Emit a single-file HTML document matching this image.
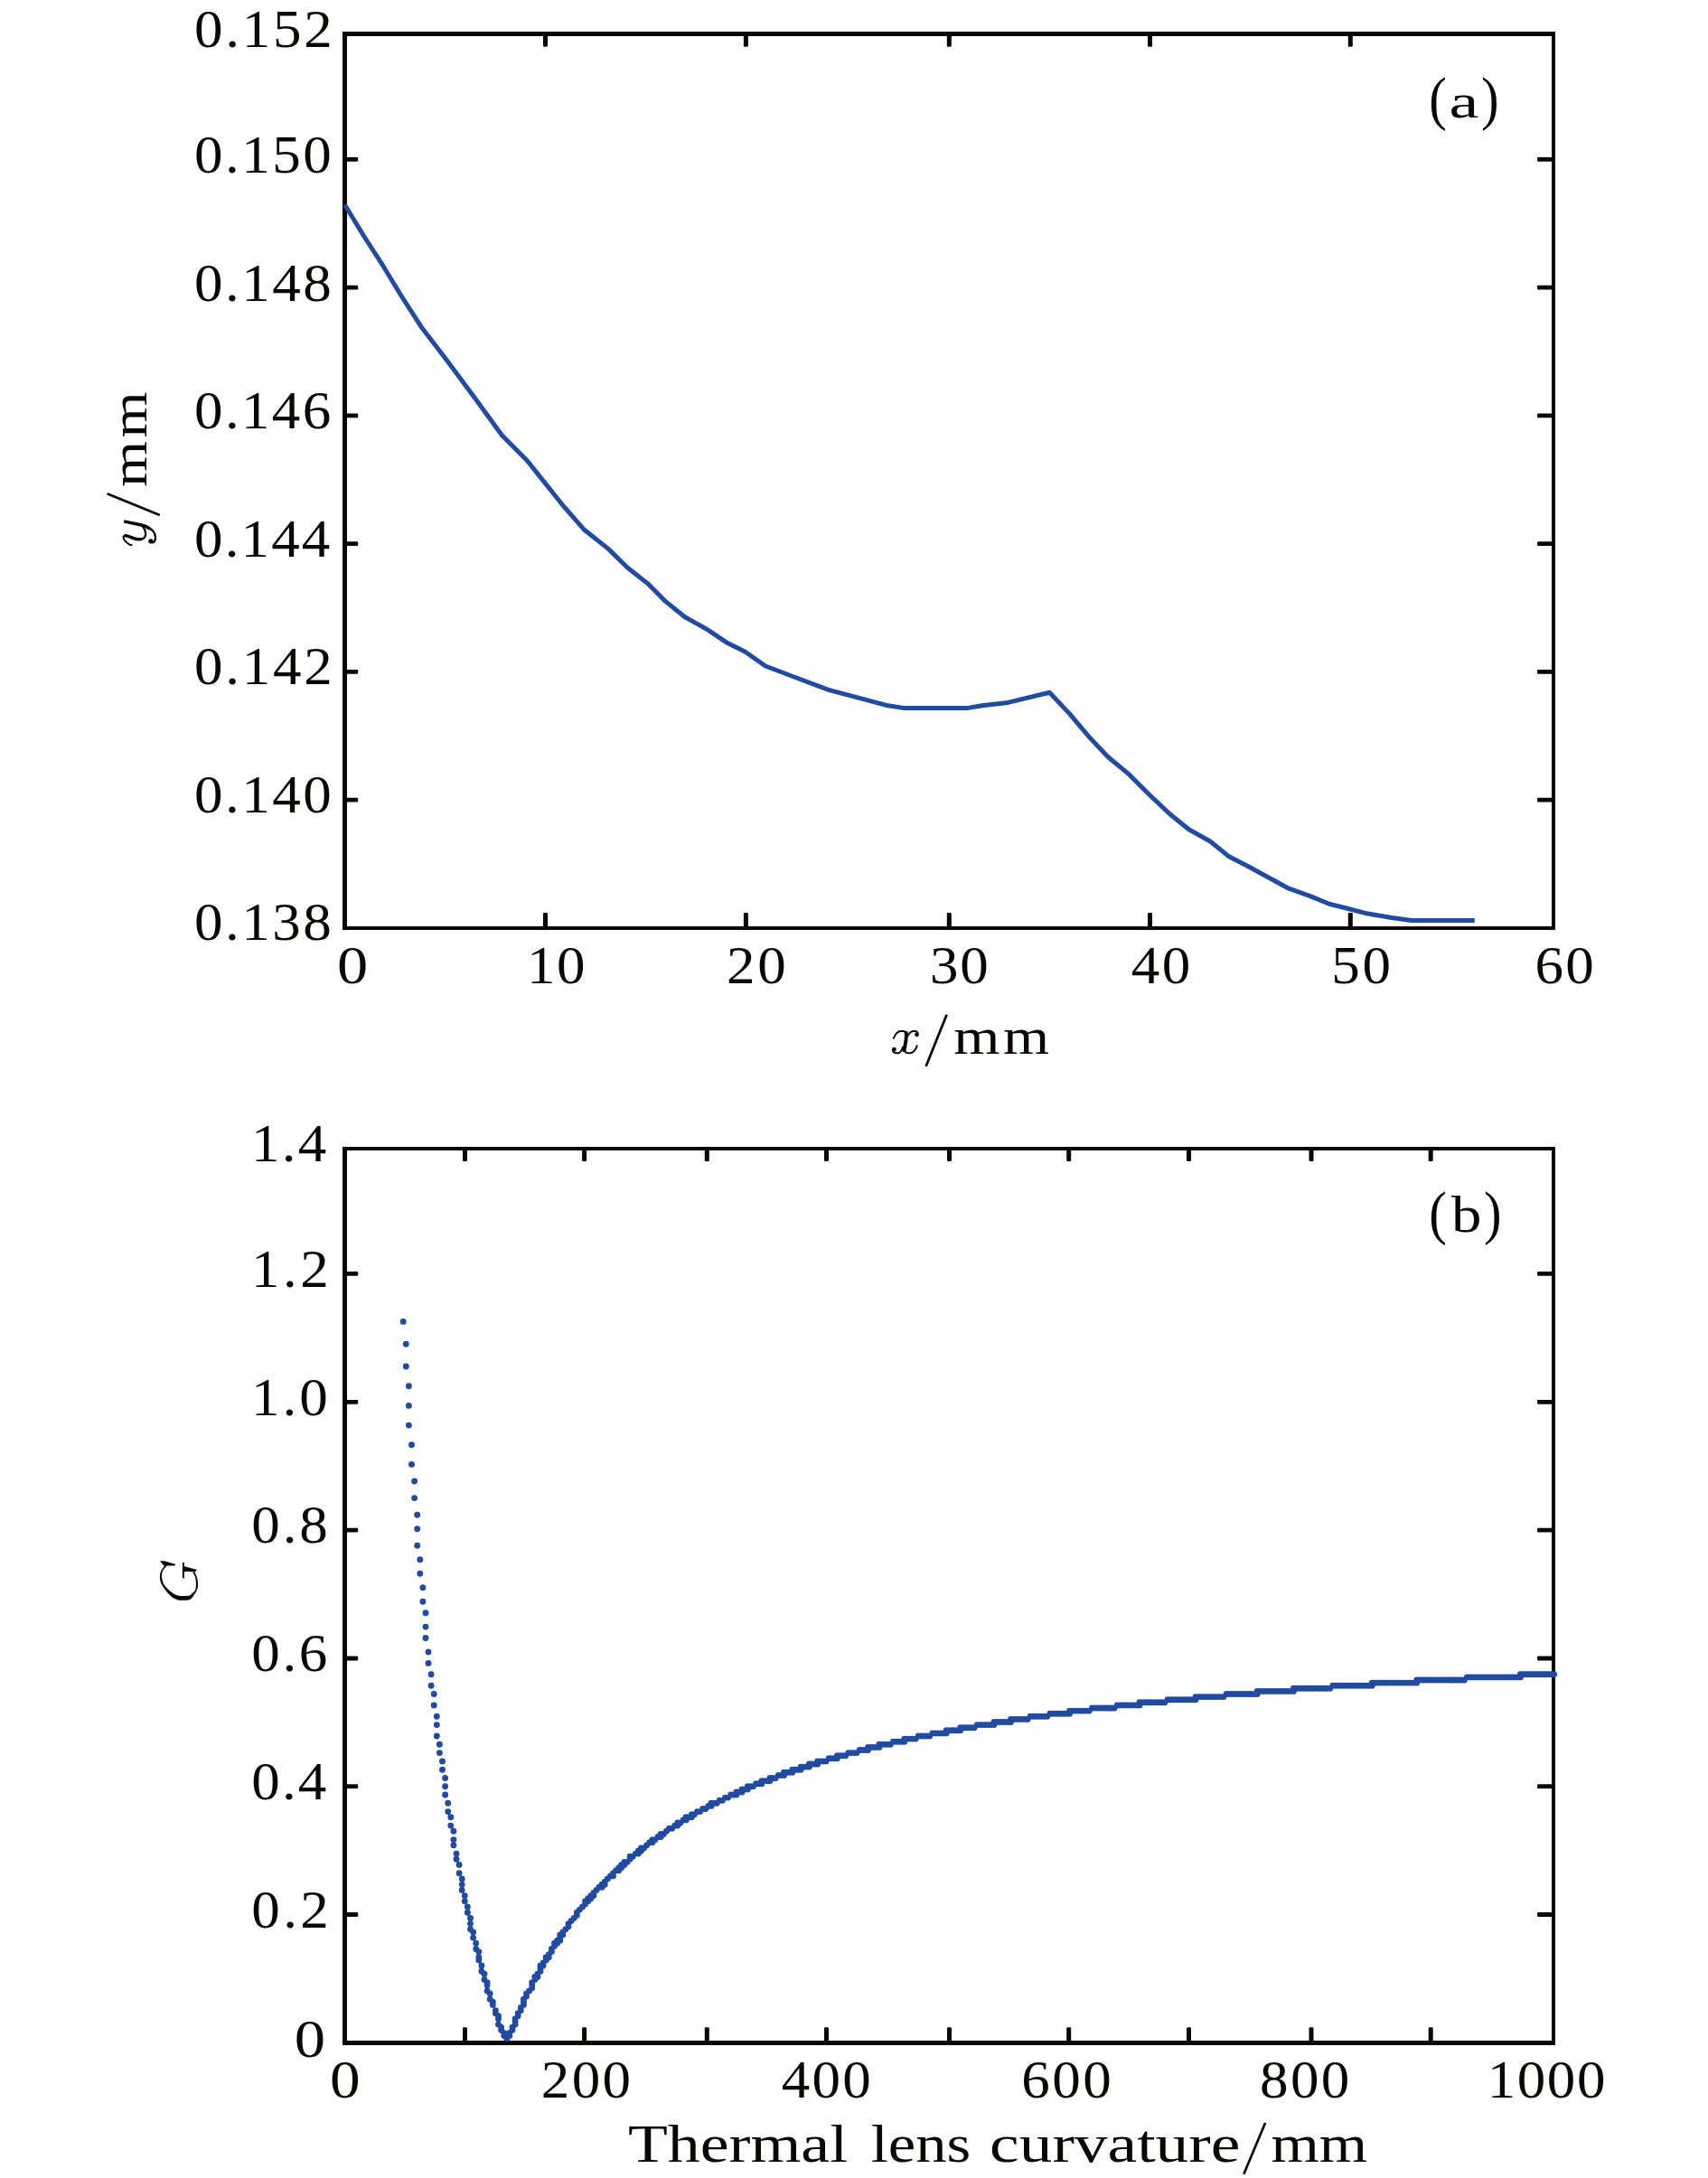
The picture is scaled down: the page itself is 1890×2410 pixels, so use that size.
<!DOCTYPE html>
<html><head><meta charset="utf-8"><title>fig</title>
<style>
html,body{margin:0;padding:0;background:#fff}
svg{display:block}
text{font-family:"Liberation Serif",serif;fill:#0a0606;font-kerning:none;font-variant-ligatures:none}
.i{font-style:italic}
</style></head><body>
<svg width="1890" height="2410" viewBox="0 0 1890 2410">
<rect width="1890" height="2410" fill="#fff"/>
<rect x="379.00" y="35.00" width="5.00" height="994.00" fill="#0a0606"/>
<rect x="379.00" y="35.00" width="1342.00" height="5.00" fill="#0a0606"/>
<rect x="1717.00" y="35.00" width="4.00" height="994.00" fill="#0a0606"/>
<rect x="379.00" y="1025.00" width="1342.00" height="4.00" fill="#0a0606"/>
<rect x="601.00" y="1010.10" width="5.00" height="17.90" rx="1.3" fill="#0a0606"/>
<rect x="601.00" y="36.00" width="5.00" height="15.80" rx="1.3" fill="#0a0606"/>
<rect x="822.90" y="1010.10" width="5.00" height="17.90" rx="1.3" fill="#0a0606"/>
<rect x="822.90" y="36.00" width="5.00" height="15.80" rx="1.3" fill="#0a0606"/>
<rect x="1047.80" y="1010.10" width="5.00" height="17.90" rx="1.3" fill="#0a0606"/>
<rect x="1047.80" y="36.00" width="5.00" height="15.80" rx="1.3" fill="#0a0606"/>
<rect x="1270.00" y="1010.10" width="5.00" height="17.90" rx="1.3" fill="#0a0606"/>
<rect x="1270.00" y="36.00" width="5.00" height="15.80" rx="1.3" fill="#0a0606"/>
<rect x="1491.80" y="1010.10" width="5.00" height="17.90" rx="1.3" fill="#0a0606"/>
<rect x="1491.80" y="36.00" width="5.00" height="15.80" rx="1.3" fill="#0a0606"/>
<rect x="380.00" y="173.90" width="16.20" height="4.80" rx="1.3" fill="#0a0606"/>
<rect x="1701.00" y="173.90" width="19.00" height="4.80" rx="1.3" fill="#0a0606"/>
<rect x="380.00" y="315.70" width="16.20" height="4.80" rx="1.3" fill="#0a0606"/>
<rect x="1701.00" y="315.70" width="19.00" height="4.80" rx="1.3" fill="#0a0606"/>
<rect x="380.00" y="457.50" width="16.20" height="4.80" rx="1.3" fill="#0a0606"/>
<rect x="1701.00" y="457.50" width="19.00" height="4.80" rx="1.3" fill="#0a0606"/>
<rect x="380.00" y="599.20" width="16.20" height="4.80" rx="1.3" fill="#0a0606"/>
<rect x="1701.00" y="599.20" width="19.00" height="4.80" rx="1.3" fill="#0a0606"/>
<rect x="380.00" y="741.00" width="16.20" height="4.80" rx="1.3" fill="#0a0606"/>
<rect x="1701.00" y="741.00" width="19.00" height="4.80" rx="1.3" fill="#0a0606"/>
<rect x="380.00" y="882.80" width="16.20" height="4.80" rx="1.3" fill="#0a0606"/>
<rect x="1701.00" y="882.80" width="19.00" height="4.80" rx="1.3" fill="#0a0606"/>
<rect x="379.00" y="1269.00" width="5.00" height="994.00" fill="#0a0606"/>
<rect x="379.00" y="1269.00" width="1342.00" height="4.00" fill="#0a0606"/>
<rect x="1717.00" y="1269.00" width="4.00" height="994.00" fill="#0a0606"/>
<rect x="379.00" y="2258.00" width="1342.00" height="5.00" fill="#0a0606"/>
<rect x="512.00" y="2243.30" width="5.00" height="18.70" rx="1.3" fill="#0a0606"/>
<rect x="512.00" y="1270.00" width="5.00" height="15.00" rx="1.3" fill="#0a0606"/>
<rect x="644.10" y="2243.30" width="5.00" height="18.70" rx="1.3" fill="#0a0606"/>
<rect x="644.10" y="1270.00" width="5.00" height="15.00" rx="1.3" fill="#0a0606"/>
<rect x="779.80" y="2243.30" width="5.00" height="18.70" rx="1.3" fill="#0a0606"/>
<rect x="779.80" y="1270.00" width="5.00" height="15.00" rx="1.3" fill="#0a0606"/>
<rect x="912.00" y="2243.30" width="5.00" height="18.70" rx="1.3" fill="#0a0606"/>
<rect x="912.00" y="1270.00" width="5.00" height="15.00" rx="1.3" fill="#0a0606"/>
<rect x="1048.00" y="2243.30" width="5.00" height="18.70" rx="1.3" fill="#0a0606"/>
<rect x="1048.00" y="1270.00" width="5.00" height="15.00" rx="1.3" fill="#0a0606"/>
<rect x="1180.20" y="2243.30" width="5.00" height="18.70" rx="1.3" fill="#0a0606"/>
<rect x="1180.20" y="1270.00" width="5.00" height="15.00" rx="1.3" fill="#0a0606"/>
<rect x="1313.00" y="2243.30" width="5.00" height="18.70" rx="1.3" fill="#0a0606"/>
<rect x="1313.00" y="1270.00" width="5.00" height="15.00" rx="1.3" fill="#0a0606"/>
<rect x="1448.50" y="2243.30" width="5.00" height="18.70" rx="1.3" fill="#0a0606"/>
<rect x="1448.50" y="1270.00" width="5.00" height="15.00" rx="1.3" fill="#0a0606"/>
<rect x="1580.70" y="2243.30" width="5.00" height="18.70" rx="1.3" fill="#0a0606"/>
<rect x="1580.70" y="1270.00" width="5.00" height="15.00" rx="1.3" fill="#0a0606"/>
<rect x="380.00" y="1407.00" width="16.20" height="4.80" rx="1.3" fill="#0a0606"/>
<rect x="1701.00" y="1407.00" width="19.00" height="4.80" rx="1.3" fill="#0a0606"/>
<rect x="380.00" y="1549.00" width="16.20" height="4.80" rx="1.3" fill="#0a0606"/>
<rect x="1701.00" y="1549.00" width="19.00" height="4.80" rx="1.3" fill="#0a0606"/>
<rect x="380.00" y="1690.80" width="16.20" height="4.80" rx="1.3" fill="#0a0606"/>
<rect x="1701.00" y="1690.80" width="19.00" height="4.80" rx="1.3" fill="#0a0606"/>
<rect x="380.00" y="1832.60" width="16.20" height="4.80" rx="1.3" fill="#0a0606"/>
<rect x="1701.00" y="1832.60" width="19.00" height="4.80" rx="1.3" fill="#0a0606"/>
<rect x="380.00" y="1974.30" width="16.20" height="4.80" rx="1.3" fill="#0a0606"/>
<rect x="1701.00" y="1974.30" width="19.00" height="4.80" rx="1.3" fill="#0a0606"/>
<rect x="380.00" y="2116.10" width="16.20" height="4.80" rx="1.3" fill="#0a0606"/>
<rect x="1701.00" y="2116.10" width="19.00" height="4.80" rx="1.3" fill="#0a0606"/>
<text transform="translate(215.10,52.00) scale(1.0700,1.0000)" font-size="58.93" letter-spacing="2.527">0.152</text>
<text transform="translate(215.10,191.10) scale(1.0700,1.0000)" font-size="58.93" letter-spacing="2.276">0.150</text>
<text transform="translate(215.10,332.60) scale(1.0700,1.0000)" font-size="58.93" letter-spacing="2.276">0.148</text>
<text transform="translate(215.10,473.70) scale(1.0700,1.0000)" font-size="58.93" letter-spacing="2.153">0.146</text>
<text transform="translate(215.10,615.50) scale(1.0700,1.0000)" font-size="58.93" letter-spacing="1.945">0.144</text>
<text transform="translate(215.10,757.30) scale(1.0700,1.0000)" font-size="58.93" letter-spacing="2.527">0.142</text>
<text transform="translate(215.10,899.30) scale(1.0700,1.0000)" font-size="58.93" letter-spacing="2.276">0.140</text>
<text transform="translate(215.10,1040.10) scale(1.0700,1.0000)" font-size="58.93" letter-spacing="2.276">0.138</text>
<text transform="translate(372.89,1088.00) scale(1.1612,1.0000)" font-size="58.93">0</text>
<text transform="translate(582.96,1088.00) scale(1.0700,1.0000)" font-size="58.93" letter-spacing="1.395">10</text>
<text transform="translate(803.93,1088.00) scale(1.0700,1.0000)" font-size="58.93" letter-spacing="2.544">20</text>
<text transform="translate(1028.98,1088.00) scale(1.0700,1.0000)" font-size="58.93" letter-spacing="1.559">30</text>
<text transform="translate(1251.67,1088.00) scale(1.0700,1.0000)" font-size="58.93" letter-spacing="2.320">40</text>
<text transform="translate(1473.24,1088.00) scale(1.0700,1.0000)" font-size="58.93" letter-spacing="2.537">50</text>
<text transform="translate(1698.59,1088.00) scale(1.0700,1.0000)" font-size="58.93" letter-spacing="2.112">60</text>
<g transform="translate(980.00,1130.00) scale(0.02634)" fill="none" stroke="#0a0606" stroke-linecap="round" stroke-linejoin="round"><path stroke-width="72" d="M335 715Q450 440 610 418L770 418Q850 430 880 520"/><path stroke-width="150" stroke-linecap="butt" d="M845 440C930 640 800 1000 775 1290"/><path stroke-width="72" d="M935 610Q1020 440 1150 418L1270 418Q1340 430 1340 500"/><circle cx="1312" cy="560" r="92" fill="#0a0606" stroke="none"/><circle cx="357" cy="1187" r="92" fill="#0a0606" stroke="none"/><path stroke-width="72" d="M300 1230Q330 1335 450 1337L540 1337Q640 1320 730 1080"/><path stroke-width="72" d="M800 1240Q820 1337 930 1337L1060 1337Q1230 1290 1320 1030"/></g>
<line x1="1024.60" y1="1179.90" x2="1047.60" y2="1122.80" stroke="#0a0606" stroke-width="2.70"/>
<text transform="translate(1055.32,1166.30) scale(1.1600,1.0000)" font-size="56.65" letter-spacing="3.003">mm</text>
<text transform="translate(161.80,539.08) rotate(-90) scale(1.1600,1.0000)" font-size="56.65" letter-spacing="3.003">mm</text>
<line x1="118.60" y1="546.20" x2="176.80" y2="570.00" stroke="#0a0606" stroke-width="2.70"/>
<g transform="translate(125.00,565.00) scale(0.03512)" fill="none" stroke="#0a0606" stroke-linecap="round" stroke-linejoin="round"><path stroke-width="100" stroke-linecap="butt" d="M345 338L900 458Q1060 495 1170 580"/><path stroke-width="66" d="M1080 515C1270 610 1335 720 1338 840C1338 940 1300 1003 1235 1005"/><circle cx="1192" cy="962" r="74" fill="#0a0606" stroke="none"/><path stroke-width="58" d="M585 1085L545 1085Q385 985 338 885Q310 800 395 768"/><path stroke-width="100" d="M400 792Q470 795 610 855Q750 912 880 905"/><path stroke-width="64" d="M860 908Q1025 895 1030 725Q1030 610 950 520"/></g>
<text transform="translate(1581.32,130.99) scale(0.9066,1.0000)" font-size="64.85">(</text>
<text transform="translate(1638.91,130.99) scale(0.9066,1.0000)" font-size="64.85">)</text>
<text transform="translate(1603.40,130.00) scale(1.3757,1.0000)" font-size="53.73">a</text>
<text transform="translate(278.06,1285.00) scale(1.0700,1.0000)" font-size="58.93" letter-spacing="2.109">1.4</text>
<text transform="translate(278.06,1423.60) scale(1.0700,1.0000)" font-size="58.93" letter-spacing="3.275">1.2</text>
<text transform="translate(278.06,1566.00) scale(1.0700,1.0000)" font-size="58.93" letter-spacing="2.771">1.0</text>
<text transform="translate(278.30,1707.40) scale(1.0700,1.0000)" font-size="58.93" letter-spacing="2.659">0.8</text>
<text transform="translate(278.30,1849.20) scale(1.0700,1.0000)" font-size="58.93" letter-spacing="2.414">0.6</text>
<text transform="translate(278.30,1991.00) scale(1.0700,1.0000)" font-size="58.93" letter-spacing="1.997">0.4</text>
<text transform="translate(278.30,2132.70) scale(1.0700,1.0000)" font-size="58.93" letter-spacing="3.162">0.2</text>
<text transform="translate(325.69,2275.50) scale(1.1652,1.0000)" font-size="58.93">0</text>
<text transform="translate(365.04,2321.30) scale(1.1412,1.0000)" font-size="58.93">0</text>
<text transform="translate(598.83,2321.30) scale(1.0700,1.0000)" font-size="58.93" letter-spacing="2.148">200</text>
<text transform="translate(864.77,2321.30) scale(1.0700,1.0000)" font-size="58.93" letter-spacing="2.036">400</text>
<text transform="translate(1130.19,2321.30) scale(1.0700,1.0000)" font-size="58.93" letter-spacing="2.353">600</text>
<text transform="translate(1394.00,2321.30) scale(1.0700,1.0000)" font-size="58.93" letter-spacing="2.209">800</text>
<text transform="translate(1645.66,2321.30) scale(1.0700,1.0000)" font-size="58.93" letter-spacing="1.477">1000</text>
<text transform="translate(695.00,2391.90) scale(1.2150,1.0000)" font-size="59.10">Thermal</text>
<text transform="translate(963.63,2391.90) scale(1.1612,1.0000)" font-size="59.10">lens</text>
<text transform="translate(1095.10,2391.90) scale(1.2425,1.0000)" font-size="59.10">curvature</text>
<line x1="1376.30" y1="2405.80" x2="1400.10" y2="2349.00" stroke="#0a0606" stroke-width="2.70"/>
<text transform="translate(1406.56,2391.90) scale(1.1600,1.0000)" font-size="59.10" letter-spacing="-0.125">mm</text>
<g transform="translate(168.00,1718.00) scale(0.03512)" fill="#0a0606" stroke="none"><path d="M395 425C384 439 349 481 330 510C311 539 292 568 280 600C268 632 262 662 258 700C254 738 250 787 255 830C260 873 276 923 290 960C304 997 318 1015 340 1050C362 1085 377 1116 420 1170C463 1224 543 1325 600 1375C657 1425 715 1447 760 1468C805 1489 813 1495 870 1500C927 1505 1038 1508 1100 1500C1162 1492 1200 1480 1240 1450C1280 1420 1310 1363 1340 1320C1370 1277 1402 1230 1420 1190C1438 1150 1442 1120 1447 1080C1452 1040 1452 992 1450 950C1448 908 1443 868 1435 830C1427 792 1416 758 1400 720C1384 682 1350 620 1340 600L1290 625C1300 641 1335 686 1350 720C1365 754 1373 792 1380 830C1387 868 1391 907 1392 950C1393 993 1392 1052 1388 1090C1384 1128 1385 1152 1370 1180C1355 1208 1325 1235 1300 1260C1275 1285 1248 1313 1220 1330C1192 1347 1183 1356 1130 1362C1077 1368 962 1370 900 1365C838 1360 810 1352 760 1330C710 1308 652 1272 600 1232C548 1192 488 1132 450 1090C412 1048 391 1020 370 980C349 940 334 897 325 850C316 803 313 742 315 700C317 658 324 630 335 600C346 570 356 551 380 520C404 489 463 430 480 412Z"/><path d="M255 262L390 262L735 362L735 412L480 412L395 425Z"/><path d="M965 315L1020 315L1020 800L1008 828L965 780Z"/><path d="M1015 425L1150 470L1415 535L1395 585L1335 612L1100 592L1015 602Z"/></g>
<text transform="translate(1581.32,1363.99) scale(0.9066,1.0000)" font-size="64.85">(</text>
<text transform="translate(1642.11,1363.99) scale(0.9066,1.0000)" font-size="64.85">)</text>
<text transform="translate(1606.00,1362.90) scale(1.1575,1.0000)" font-size="57.79">b</text>
<polyline fill="none" stroke="#204ba0" stroke-width="5" stroke-linejoin="round" points="381.5,226.5 402.8,261.5 423.3,293.2 443.8,327.0 466.3,361.9 493.0,396.7 525.7,440.8 555.5,481.8 583.1,509.4 624.1,560.7 646.6,586.3 673.2,607.4 694.2,628.0 716.6,645.6 736.4,665.4 757.5,682.5 781.2,695.7 803.6,710.7 824.6,721.2 847.0,737.0 883.9,751.0 916.9,763.4 949.8,772.1 982.7,780.8 999.8,783.4 1071.0,783.4 1086.8,780.8 1115.3,777.4 1161.4,766.3 1183.8,790.1 1204.9,815.1 1226.0,837.5 1249.7,857.2 1270.7,878.3 1294.5,900.7 1315.5,917.8 1339.2,931.0 1360.3,948.1 1381.4,958.7 1405.1,971.8 1426.2,983.2 1449.9,991.6 1471.0,1000.3 1492.0,1005.5 1512.4,1010.8 1540.0,1015.5 1562.0,1018.4 1631.7,1018.4"/>
<path fill="none" stroke="#204ba0" stroke-width="6.9" stroke-linecap="round" d="M446.2 1462.4h0M449.3 1487.2h0M449.3 1512.0h0M452.4 1533.7h0M452.4 1555.4h0M452.4 1577.1h0M455.5 1598.8h0M455.5 1620.4h0M458.6 1639.0h0M458.6 1657.6h0M461.7 1676.2h0M461.7 1691.7h0M461.7 1710.3h0M464.8 1725.8h0M464.8 1741.3h0M467.9 1756.8h0M467.9 1772.3h0M471.0 1784.7h0M471.0 1800.1h0M471.0 1812.5h0M474.0 1828.0h0M474.0 1840.4h0M477.1 1852.8h0M477.1 1865.2h0M480.2 1874.5h0M480.2 1886.9h0M483.3 1899.3h0M483.3 1908.6h0M483.3 1921.0h0M486.4 1930.3h0M486.4 1939.6h0M489.5 1948.9h0M489.5 1958.2h0M492.6 1967.5h0M492.6 1976.8h0M492.6 1986.0h0M495.7 1995.3h0M495.7 2004.6h0M498.8 2010.8h0M498.8 2020.1h0M501.9 2026.3h0M501.9 2035.6h0M501.9 2041.8h0M505.0 2051.1h0M505.0 2057.3h0M508.1 2063.5h0M508.1 2072.8h0M511.2 2079.0h0M511.2 2085.2h0M511.2 2091.4h0M514.3 2097.6h0M514.3 2103.8h0M517.4 2110.0h0M517.4 2116.2h0M520.5 2122.4h0M520.5 2128.6h0M520.5 2134.8h0M523.6 2137.9h0M523.6 2144.1h0M526.7 2150.3h0M526.7 2156.5h0M529.8 2159.6h0M529.8 2165.8h0M529.8 2168.9h0M532.9 2175.0h0M532.9 2181.2h0M536.0 2184.3h0M536.0 2190.5h0M539.1 2193.6h0M539.1 2196.7h0M539.1 2202.9h0M542.2 2206.0h0M542.2 2212.2h0M545.3 2215.3h0M545.3 2218.4h0M548.4 2224.6h0M548.4 2227.7h0M551.5 2230.8h0M551.5 2233.9h0M551.5 2240.1h0M554.6 2243.2h0M554.6 2246.3h0M557.7 2249.4h0M557.7 2252.5h0M560.8 2255.6h0M563.9 2252.5h0M563.9 2249.4h0M567.0 2246.3h0M567.0 2243.2h0M570.1 2240.1h0M570.1 2237.0h0M570.1 2233.9h0M573.2 2230.8h0M573.2 2227.7h0M576.3 2224.6h0M576.3 2221.5h0M579.4 2218.4h0M579.4 2215.3h0M579.4 2212.2h0M582.5 2209.1h0M582.5 2206.0h0M585.6 2202.9h0M588.7 2199.8h0M588.7 2196.7h0M588.7 2193.6h0M591.8 2190.5h0M591.8 2187.4h0M594.9 2187.4h0M594.9 2184.3h0M598.0 2181.2h0M598.0 2178.1h0M598.0 2175.0h0M601.1 2175.0h0M601.1 2172.0h0M604.2 2168.9h0M604.2 2165.8h0M607.3 2165.8h0M607.3 2162.7h0M610.4 2159.6h0M610.4 2156.5h0M613.5 2153.4h0M613.5 2150.3h0M616.6 2150.3h0M616.6 2147.2h0M619.7 2147.2h0M619.7 2144.1h0M619.7 2141.0h0M622.8 2141.0h0M622.8 2137.9h0M625.9 2134.8h0M629.0 2131.7h0M629.0 2128.6h0M632.1 2125.5h0M635.2 2122.4h0M638.3 2119.3h0M638.3 2116.2h0M641.4 2113.1h0M644.5 2110.0h0M647.6 2106.9h0M647.6 2103.8h0M650.7 2103.8h0M650.7 2100.7h0M653.8 2100.7h0M653.8 2097.6h0M656.9 2097.6h0M656.9 2094.5h0M660.0 2091.4h0M663.0 2088.3h0M666.1 2088.3h0M666.1 2085.2h0M669.2 2085.2h0M669.2 2082.1h0M672.3 2079.0h0M675.4 2075.9h0M678.5 2075.9h0M678.5 2072.8h0M681.6 2069.7h0M684.7 2069.7h0M684.7 2066.6h0M687.8 2066.6h0M687.8 2063.5h0M690.9 2063.5h0M690.9 2060.4h0M694.0 2060.4h0M697.1 2057.3h0M697.1 2054.2h0M700.2 2054.2h0M703.3 2051.1h0M706.4 2051.1h0M706.4 2048.0h0M709.5 2048.0h0M709.5 2044.9h0M712.6 2044.9h0M715.7 2041.8h0M718.8 2038.7h0M721.9 2038.7h0M721.9 2035.6h0M725.0 2035.6h0M728.1 2032.5h0M731.2 2032.5h0M731.2 2029.4h0M734.3 2029.4h0M737.4 2026.3h0M740.5 2023.2h0M743.6 2023.2h0M746.7 2020.1h0M749.8 2020.1h0M749.8 2017.0h0M752.9 2017.0h0M756.0 2013.9h0M759.1 2013.9h0M759.1 2010.8h0M762.2 2010.8h0M765.3 2010.8h0M765.3 2007.7h0M768.4 2007.7h0M771.5 2004.6h0M774.6 2004.6h0M777.7 2001.5h0M780.8 2001.5h0M783.9 1998.4h0M787.0 1998.4h0M787.0 1995.3h0M790.1 1995.3h0M793.2 1995.3h0M796.3 1992.2h0M799.4 1992.2h0M802.5 1989.1h0M805.6 1989.1h0M808.7 1986.0h0M811.8 1986.0h0M814.9 1986.0h0M814.9 1983.0h0M818.0 1983.0h0M821.1 1983.0h0M821.1 1979.9h0M824.2 1979.9h0M827.3 1979.9h0M827.3 1976.8h0M830.4 1976.8h0M833.5 1976.8h0M836.6 1973.7h0M839.7 1973.7h0M842.8 1973.7h0M842.8 1970.6h0M845.9 1970.6h0M849.0 1970.6h0M852.0 1970.6h0M852.0 1967.5h0M855.1 1967.5h0M858.2 1967.5h0M861.3 1964.4h0M864.4 1964.4h0M867.5 1964.4h0M867.5 1961.3h0M870.6 1961.3h0M873.7 1961.3h0M876.8 1961.3h0M876.8 1958.2h0M879.9 1958.2h0M883.0 1958.2h0M886.1 1958.2h0M886.1 1955.1h0M889.2 1955.1h0M892.3 1955.1h0M895.4 1955.1h0M895.4 1952.0h0M898.5 1952.0h0M901.6 1952.0h0M904.7 1952.0h0M904.7 1948.9h0M907.8 1948.9h0M910.9 1948.9h0M914.0 1948.9h0M917.1 1945.8h0M920.2 1945.8h0M923.3 1945.8h0M926.4 1945.8h0M926.4 1942.7h0M929.5 1942.7h0M932.6 1942.7h0M935.7 1942.7h0M938.8 1939.6h0M941.9 1939.6h0M945.0 1939.6h0M948.1 1939.6h0M951.2 1936.5h0M954.3 1936.5h0M957.4 1936.5h0M960.5 1936.5h0M960.5 1933.4h0M963.6 1933.4h0M966.7 1933.4h0M969.8 1933.4h0M972.9 1933.4h0M972.9 1930.3h0M976.0 1930.3h0M979.1 1930.3h0M982.2 1930.3h0M985.3 1930.3h0M988.4 1927.2h0M991.5 1927.2h0M994.6 1927.2h0M997.7 1927.2h0M1000.8 1927.2h0M1000.8 1924.1h0M1003.9 1924.1h0M1007.0 1924.1h0M1010.1 1924.1h0M1013.2 1924.1h0M1016.3 1921.0h0M1019.4 1921.0h0M1022.5 1921.0h0M1025.6 1921.0h0M1028.7 1921.0h0M1031.8 1917.9h0M1034.9 1917.9h0M1038.0 1917.9h0M1041.0 1917.9h0M1044.1 1917.9h0M1047.2 1917.9h0M1047.2 1914.8h0M1050.3 1914.8h0M1053.4 1914.8h0M1056.5 1914.8h0M1059.6 1914.8h0M1062.7 1914.8h0M1062.7 1911.7h0M1065.8 1911.7h0M1068.9 1911.7h0M1072.0 1911.7h0M1075.1 1911.7h0M1078.2 1911.7h0M1081.3 1908.6h0M1084.4 1908.6h0M1087.5 1908.6h0M1090.6 1908.6h0M1093.7 1908.6h0M1096.8 1908.6h0M1099.9 1908.6h0M1099.9 1905.5h0M1103.0 1905.5h0M1106.1 1905.5h0M1109.2 1905.5h0M1112.3 1905.5h0M1115.4 1905.5h0M1118.5 1905.5h0M1118.5 1902.4h0M1121.6 1902.4h0M1124.7 1902.4h0M1127.8 1902.4h0M1130.9 1902.4h0M1134.0 1902.4h0M1137.1 1902.4h0M1140.2 1899.3h0M1143.3 1899.3h0M1146.4 1899.3h0M1149.5 1899.3h0M1152.6 1899.3h0M1155.7 1899.3h0M1158.8 1899.3h0M1161.9 1896.2h0M1165.0 1896.2h0M1168.1 1896.2h0M1171.2 1896.2h0M1174.3 1896.2h0M1177.4 1896.2h0M1180.5 1896.2h0M1183.6 1896.2h0M1183.6 1893.1h0M1186.7 1893.1h0M1189.8 1893.1h0M1192.9 1893.1h0M1196.0 1893.1h0M1199.1 1893.1h0M1202.2 1893.1h0M1205.3 1893.1h0M1208.4 1890.0h0M1211.5 1890.0h0M1214.6 1890.0h0M1217.7 1890.0h0M1220.8 1890.0h0M1223.9 1890.0h0M1227.0 1890.0h0M1230.0 1890.0h0M1233.1 1890.0h0M1236.2 1886.9h0M1239.3 1886.9h0M1242.4 1886.9h0M1245.5 1886.9h0M1248.6 1886.9h0M1251.7 1886.9h0M1254.8 1886.9h0M1257.9 1886.9h0M1261.0 1886.9h0M1261.0 1883.8h0M1264.1 1883.8h0M1267.2 1883.8h0M1270.3 1883.8h0M1273.4 1883.8h0M1276.5 1883.8h0M1279.6 1883.8h0M1282.7 1883.8h0M1285.8 1883.8h0M1288.9 1883.8h0M1292.0 1880.7h0M1295.1 1880.7h0M1298.2 1880.7h0M1301.3 1880.7h0M1304.4 1880.7h0M1307.5 1880.7h0M1310.6 1880.7h0M1313.7 1880.7h0M1316.8 1880.7h0M1319.9 1880.7h0M1323.0 1880.7h0M1323.0 1877.6h0M1326.1 1877.6h0M1329.2 1877.6h0M1332.3 1877.6h0M1335.4 1877.6h0M1338.5 1877.6h0M1341.6 1877.6h0M1344.7 1877.6h0M1347.8 1877.6h0M1350.9 1877.6h0M1354.0 1877.6h0M1357.1 1874.5h0M1360.2 1874.5h0M1363.3 1874.5h0M1366.4 1874.5h0M1369.5 1874.5h0M1372.6 1874.5h0M1375.7 1874.5h0M1378.8 1874.5h0M1381.9 1874.5h0M1385.0 1874.5h0M1388.1 1874.5h0M1391.2 1874.5h0M1391.2 1871.4h0M1394.3 1871.4h0M1397.4 1871.4h0M1400.5 1871.4h0M1403.6 1871.4h0M1406.7 1871.4h0M1409.8 1871.4h0M1412.9 1871.4h0M1416.0 1871.4h0M1419.0 1871.4h0M1422.1 1871.4h0M1425.2 1871.4h0M1428.3 1871.4h0M1431.4 1871.4h0M1431.4 1868.3h0M1434.5 1868.3h0M1437.6 1868.3h0M1440.7 1868.3h0M1443.8 1868.3h0M1446.9 1868.3h0M1450.0 1868.3h0M1453.1 1868.3h0M1456.2 1868.3h0M1459.3 1868.3h0M1462.4 1868.3h0M1465.5 1868.3h0M1468.6 1868.3h0M1471.7 1868.3h0M1474.8 1865.2h0M1477.9 1865.2h0M1481.0 1865.2h0M1484.1 1865.2h0M1487.2 1865.2h0M1490.3 1865.2h0M1493.4 1865.2h0M1496.5 1865.2h0M1499.6 1865.2h0M1502.7 1865.2h0M1505.8 1865.2h0M1508.9 1865.2h0M1512.0 1865.2h0M1515.1 1865.2h0M1518.2 1865.2h0M1518.2 1862.1h0M1521.3 1862.1h0M1524.4 1862.1h0M1527.5 1862.1h0M1530.6 1862.1h0M1533.7 1862.1h0M1536.8 1862.1h0M1539.9 1862.1h0M1543.0 1862.1h0M1546.1 1862.1h0M1549.2 1862.1h0M1552.3 1862.1h0M1555.4 1862.1h0M1558.5 1862.1h0M1561.6 1862.1h0M1564.7 1862.1h0M1567.8 1862.1h0M1567.8 1859.0h0M1570.9 1859.0h0M1574.0 1859.0h0M1577.1 1859.0h0M1580.2 1859.0h0M1583.3 1859.0h0M1586.4 1859.0h0M1589.5 1859.0h0M1592.6 1859.0h0M1595.7 1859.0h0M1598.8 1859.0h0M1601.9 1859.0h0M1605.0 1859.0h0M1608.0 1859.0h0M1611.1 1859.0h0M1614.2 1859.0h0M1617.3 1859.0h0M1620.4 1859.0h0M1623.5 1855.9h0M1626.6 1855.9h0M1629.7 1855.9h0M1632.8 1855.9h0M1635.9 1855.9h0M1639.0 1855.9h0M1642.1 1855.9h0M1645.2 1855.9h0M1648.3 1855.9h0M1651.4 1855.9h0M1654.5 1855.9h0M1657.6 1855.9h0M1660.7 1855.9h0M1663.8 1855.9h0M1666.9 1855.9h0M1670.0 1855.9h0M1673.1 1855.9h0M1676.2 1855.9h0M1679.3 1855.9h0M1682.4 1855.9h0M1682.4 1852.8h0M1685.5 1852.8h0M1688.6 1852.8h0M1691.7 1852.8h0M1694.8 1852.8h0M1697.9 1852.8h0M1701.0 1852.8h0M1704.1 1852.8h0M1707.2 1852.8h0M1710.3 1852.8h0M1713.4 1852.8h0M1716.5 1852.8h0M1719.6 1852.8h0"/>
</svg>
</body></html>
